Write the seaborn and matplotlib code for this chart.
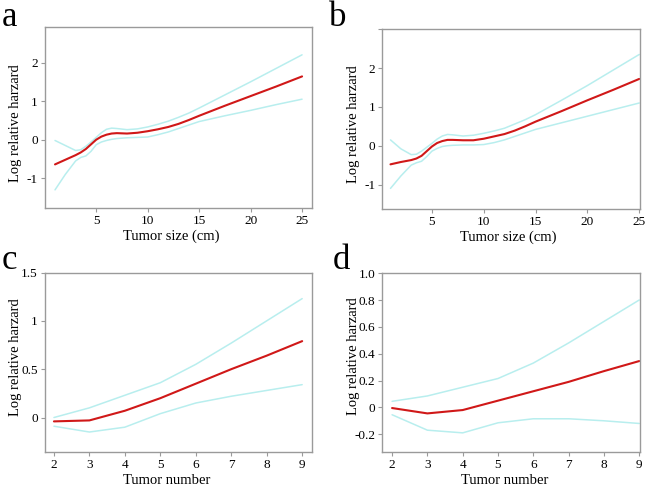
import matplotlib
matplotlib.use("Agg")
import matplotlib.pyplot as plt
import seaborn as sns
import pandas as pd

sns.set_theme(style="white")
plt.rcParams['font.family'] = ['Liberation Serif', 'DejaVu Serif']
plt.rcParams['text.color'] = 'black'
plt.rcParams['axes.labelcolor'] = 'black'

# ---- data ----
size_x = [1, 2, 3, 3.5, 4, 4.5, 5, 5.5, 6, 6.5, 7, 8, 9, 10, 11, 12, 13, 14, 15, 17.5, 20, 22.5, 25]
a_est = [-0.64, -0.52, -0.40, -0.33, -0.24, -0.12, 0.00, 0.08, 0.13, 0.16, 0.17, 0.16, 0.18, 0.22, 0.27, 0.33, 0.41, 0.51, 0.62, 0.88, 1.13, 1.38, 1.64]
a_up = [-0.02, -0.15, -0.28, -0.26, -0.17, -0.06, 0.06, 0.18, 0.27, 0.30, 0.29, 0.26, 0.28, 0.33, 0.40, 0.48, 0.58, 0.69, 0.82, 1.16, 1.50, 1.85, 2.20]
a_lo = [-1.30, -0.90, -0.55, -0.46, -0.42, -0.30, -0.13, -0.06, -0.02, 0.01, 0.03, 0.05, 0.06, 0.07, 0.13, 0.20, 0.29, 0.38, 0.47, 0.62, 0.76, 0.91, 1.05]

b_est = [-0.48, -0.42, -0.37, -0.33, -0.26, -0.14, -0.02, 0.07, 0.12, 0.15, 0.15, 0.14, 0.14, 0.18, 0.24, 0.30, 0.39, 0.50, 0.62, 0.89, 1.17, 1.44, 1.72]
b_up = [0.15, -0.08, -0.23, -0.22, -0.14, -0.04, 0.06, 0.17, 0.25, 0.29, 0.28, 0.25, 0.27, 0.32, 0.38, 0.45, 0.56, 0.67, 0.80, 1.17, 1.55, 1.95, 2.35]
b_lo = [-1.10, -0.78, -0.50, -0.44, -0.40, -0.28, -0.14, -0.07, -0.02, 0.00, 0.01, 0.02, 0.02, 0.03, 0.08, 0.15, 0.24, 0.33, 0.42, 0.59, 0.76, 0.93, 1.10]

num_x = [2, 3, 4, 5, 6, 7, 8, 9]
c_est = [-0.04, -0.03, 0.07, 0.20, 0.35, 0.50, 0.64, 0.79]
c_up = [0.00, 0.10, 0.23, 0.36, 0.55, 0.77, 1.00, 1.23]
c_lo = [-0.09, -0.15, -0.10, 0.04, 0.15, 0.22, 0.28, 0.34]

d_est = [-0.005, -0.045, -0.02, 0.05, 0.12, 0.19, 0.27, 0.345]
d_up = [0.045, 0.085, 0.15, 0.215, 0.33, 0.48, 0.64, 0.80]
d_lo = [-0.055, -0.17, -0.19, -0.115, -0.085, -0.085, -0.10, -0.12]

RED = "#d01818"
CYAN = "#b8eeee"
GRAY = "#9a9a9a"

fig = plt.figure(figsize=(6.5, 4.86), dpi=100)

panels = [
    dict(letter="a", rect=[0.0688, 0.572, 0.4108, 0.3724], x=size_x, est=a_est, up=a_up, lo=a_lo,
         xlim=(0.0, 25.94), ylim=(-1.77, 2.92), xt=[5, 10, 15, 20, 25], xtl=["5", "10", "15", "20", "25"],
         yt=[-1, 0, 1, 2], ytl=["-1", "0", "1", "2"], xlabel="Tumor size (cm)",
         ylab=(-0.111, 0.47), xlab=(0.473, -0.12), lpos=(0.002, 0.947)),
    dict(letter="b", rect=[0.588, 0.570, 0.3965, 0.3698], x=size_x, est=b_est, up=b_up, lo=b_lo,
         xlim=(0.2, 25.07), ylim=(-1.63, 3.0), xt=[5, 10, 15, 20, 25], xtl=["5", "10", "15", "20", "25"],
         yt=[-1, 0, 1, 2, 3], ytl=["-1", "0", "1", "2", ""], xlabel="Tumor size (cm)",
         ylab=(-0.1125, 0.473), xlab=(0.49, -0.12), lpos=(0.506, 0.947)),
    dict(letter="c", rect=[0.0688, 0.0693, 0.4108, 0.370], x=num_x, est=c_est, up=c_up, lo=c_lo,
         xlim=(1.74, 9.27), ylim=(-0.36, 1.5), xt=num_x, xtl=[str(v) for v in num_x],
         yt=[0, 0.5, 1, 1.5], ytl=["0", "0.5", "1", "1.5"], xlabel="Tumor number",
         ylab=(-0.111, 0.53), xlab=(0.457, -0.12), lpos=(0.002, 0.447)),
    dict(letter="d", rect=[0.588, 0.0693, 0.3965, 0.370], x=num_x, est=d_est, up=d_up, lo=d_lo,
         xlim=(1.72, 9.02), ylim=(-0.335, 1.005), xt=num_x, xtl=[str(v) for v in num_x],
         yt=[-0.2, 0, 0.2, 0.4, 0.6, 0.8, 1.0], ytl=["-0.2", "0", "0.2", "0.4", "0.6", "0.8", "1.0"],
         xlabel="Tumor number", ylab=(-0.1125, 0.535), xlab=(0.476, -0.12), lpos=(0.512, 0.447)),
]

for p in panels:
    ax = fig.add_axes(p["rect"])
    df = pd.DataFrame({"x": p["x"], "est": p["est"], "up": p["up"], "lo": p["lo"]})
    sns.lineplot(data=df, x="x", y="up", ax=ax, color=CYAN, lw=1.1)
    sns.lineplot(data=df, x="x", y="lo", ax=ax, color=CYAN, lw=1.1)
    sns.lineplot(data=df, x="x", y="est", ax=ax, color=RED, lw=1.5)
    ax.set_xlim(*p["xlim"])
    ax.set_ylim(*p["ylim"])
    ax.set_xticks(p["xt"])
    ax.set_xticklabels(p["xtl"])
    ax.set_yticks(p["yt"])
    ax.set_yticklabels(p["ytl"])
    ax.tick_params(axis="both", which="both", direction="out", length=3, width=0.8,
                   color=GRAY, labelsize=9.5, labelcolor="black", pad=2,
                   bottom=True, left=True)
    for s in ax.spines.values():
        s.set_color(GRAY)
        s.set_linewidth(1.0)
    ax.set_xlabel(p["xlabel"], fontsize=10.5, va="top", color="black")
    ax.set_ylabel("Log relative harzard", fontsize=10.5, va="center", color="black")
    ax.yaxis.set_label_coords(*p["ylab"])
    ax.xaxis.set_label_coords(*p["xlab"])
    fig.text(p["lpos"][0], p["lpos"][1], p["letter"], fontsize=25, ha="left",
             va="baseline", color="black")

fig.savefig("out.png", dpi=100)
